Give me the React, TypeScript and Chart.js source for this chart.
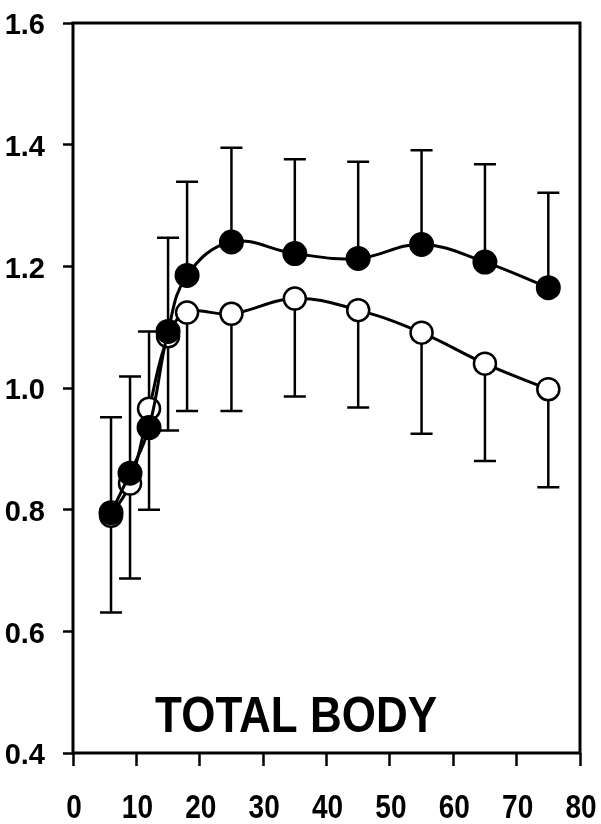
import { useEffect, useRef } from "react";
import { Chart, registerables } from "chart.js";

Chart.register(...registerables);

// Age (years)
const ages = [6, 9, 12, 15, 18, 25, 35, 45, 55, 65, 75];
// Filled circles: mean and upper error bar end
const filledMean = [0.795, 0.86, 0.935, 1.093, 1.185, 1.24, 1.221, 1.213, 1.236, 1.207, 1.165];
const filledUpper = [0.952, 1.019, 1.093, 1.247, 1.339, 1.395, 1.376, 1.372, 1.391, 1.368, 1.321];
// Open circles: mean and lower error bar end
const openMean = [0.79, 0.843, 0.966, 1.085, 1.124, 1.122, 1.147, 1.128, 1.091, 1.04, 0.998];
const openLower = [0.631, 0.687, 0.8, 0.93, 0.962, 0.962, 0.986, 0.968, 0.925, 0.88, 0.837];

const xTicks = [0, 10, 20, 30, 40, 50, 60, 70, 80];
const yTicks = [0.4, 0.6, 0.8, 1.0, 1.2, 1.4, 1.6];
const panelLabel = "TOTAL BODY";

const FONT = "'Liberation Sans', Arial, Helvetica, sans-serif";

export default function App() {
  const ref = useRef<HTMLCanvasElement>(null);

  useEffect(() => {
    if (!ref.current) return;

    const errorBars = {
      id: "errorBars",
      beforeDatasetsDraw(chart: any) {
        const { ctx, scales } = chart;
        const xs = scales.x;
        const ys = scales.y;
        ctx.save();
        ctx.strokeStyle = "#000";
        ctx.lineWidth = 2.5;
        const cap = 11;
        const draw = (xv: number, y0: number, y1: number) => {
          const px = xs.getPixelForValue(xv);
          const p0 = ys.getPixelForValue(y0);
          const p1 = ys.getPixelForValue(y1);
          ctx.beginPath();
          ctx.moveTo(px, p0);
          ctx.lineTo(px, p1);
          ctx.moveTo(px - cap, p1);
          ctx.lineTo(px + cap, p1);
          ctx.stroke();
        };
        ages.forEach((a, i) => {
          draw(a, filledMean[i], filledUpper[i]);
          draw(a, openMean[i], openLower[i]);
        });
        ctx.restore();
      },
    };

    // tick labels (x labels slightly condensed / stretched vertically like the original)
    const tickLabels = {
      id: "tickLabels",
      afterDraw(chart: any) {
        const { ctx, scales } = chart;
        const xs = scales.x;
        const ys = scales.y;
        ctx.save();
        ctx.fillStyle = "#000";
        ctx.textBaseline = "alphabetic";
        // y labels
        const ySize = 29;
        ctx.font = `bold ${ySize}px ${FONT}`;
        ctx.textAlign = "right";
        yTicks.forEach((v) => {
          const py = ys.getPixelForValue(v);
          ctx.fillText(v.toFixed(1), ys.right - 28, py + 0.358 * ySize + 1);
        });
        // x labels
        const xSize = 28;
        const sy = 1.16;
        ctx.font = `bold ${xSize}px ${FONT}`;
        ctx.textAlign = "center";
        xTicks.forEach((v) => {
          const px = xs.getPixelForValue(v);
          ctx.save();
          ctx.translate(px + 1, xs.top + 53.5 + 0.358 * xSize * sy);
          ctx.scale(1, sy);
          ctx.fillText(String(v), 0, 0);
          ctx.restore();
        });
        ctx.restore();
      },
    };

    const frame = {
      id: "frame",
      afterDraw(chart: any) {
        const { ctx, chartArea } = chart;
        const { left, right, top, bottom } = chartArea;
        ctx.save();
        ctx.strokeStyle = "#000";
        ctx.lineWidth = 3;
        ctx.beginPath();
        ctx.moveTo(left, top);
        ctx.lineTo(right, top);
        ctx.lineTo(right, bottom);
        ctx.lineTo(left, bottom);
        ctx.closePath();
        ctx.stroke();
        // panel label
        const cx = left + 0.44 * (right - left);
        const by = bottom - 21;
        ctx.translate(cx, by);
        ctx.scale(1, 1.15);
        ctx.fillStyle = "#000";
        ctx.font = `bold 44px ${FONT}`;
        ctx.textAlign = "center";
        ctx.textBaseline = "alphabetic";
        ctx.fillText(panelLabel, 0, 0);
        ctx.restore();
      },
    };

    const chart = new Chart(ref.current, {
      type: "line",
      data: {
        datasets: [
          {
            label: "filled",
            data: ages.map((a, i) => ({ x: a, y: filledMean[i] })),
            borderColor: "#000",
            backgroundColor: "#000",
            borderWidth: 3,
            pointRadius: 11.5,
            pointBorderWidth: 2,
            pointBackgroundColor: "#000",
            pointBorderColor: "#000",
            tension: 0.4,
          },
          {
            label: "open",
            data: ages.map((a, i) => ({ x: a, y: openMean[i] })),
            borderColor: "#000",
            backgroundColor: "#fff",
            borderWidth: 3,
            pointRadius: 11,
            pointBorderWidth: 2.5,
            pointBackgroundColor: "#fff",
            pointBorderColor: "#000",
            tension: 0.4,
          },
        ],
      },
      options: {
        responsive: false,
        animation: false,
        events: [],
        layout: { padding: { top: 23, right: 21, left: 0, bottom: 0 } },
        plugins: {
          legend: { display: false },
          tooltip: { enabled: false },
          title: { display: false },
        },
        scales: {
          x: {
            type: "linear",
            min: 0,
            max: 80,
            afterBuildTicks: (s: any) => {
              s.ticks = xTicks.map((v) => ({ value: v }));
            },
            afterFit: (s: any) => {
              s.height = 71;
              s.paddingLeft = 0;
              s.paddingRight = 0;
              s.paddingTop = 0;
              s.paddingBottom = 0;
            },
            border: { display: false },
            grid: {
              drawOnChartArea: false,
              drawTicks: true,
              tickLength: 13,
              tickWidth: 2.5,
              tickColor: "#000",
            },
            ticks: { display: false },
          },
          y: {
            type: "linear",
            min: 0.4,
            max: 1.6,
            afterBuildTicks: (s: any) => {
              s.ticks = yTicks.map((v) => ({ value: v }));
            },
            afterFit: (s: any) => {
              s.width = 73;
              s.paddingLeft = 0;
              s.paddingRight = 0;
              s.paddingTop = 0;
              s.paddingBottom = 0;
            },
            border: { display: false },
            grid: {
              drawOnChartArea: false,
              drawTicks: true,
              tickLength: 10,
              tickWidth: 2.5,
              tickColor: "#000",
            },
            ticks: { display: false },
          },
        },
      },
      plugins: [errorBars, frame, tickLabels],
    } as any);

    return () => chart.destroy();
  }, []);

  return (
    <div style={{ position: "absolute", left: 0, top: 0, width: 601, height: 824, background: "#fff" }}>
      <canvas ref={ref} width={601} height={824} style={{ display: "block" }} />
    </div>
  );
}
